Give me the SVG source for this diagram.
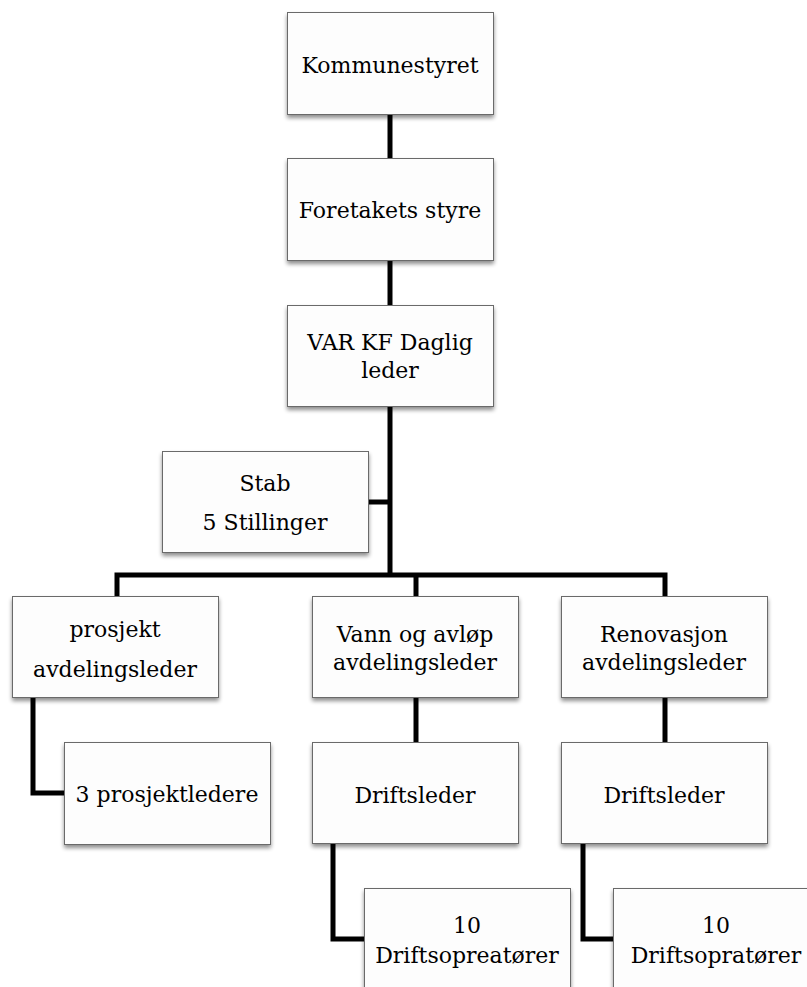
<svg xmlns="http://www.w3.org/2000/svg" width="807" height="987" viewBox="0 0 807 987">
<defs>
<filter id="sh" x="-10%" y="-10%" width="120%" height="130%">
<feGaussianBlur in="SourceAlpha" stdDeviation="2"/>
<feOffset dx="0" dy="3" result="b"/>
<feComponentTransfer><feFuncA type="linear" slope="0.45"/></feComponentTransfer>
<feMerge><feMergeNode/><feMergeNode in="SourceGraphic"/></feMerge>
</filter>
</defs>
<style>
.box{fill:#fdfdfd;stroke:#6b6b6b;stroke-width:1;filter:url(#sh)}
.t{font-family:"DejaVu Serif","Liberation Serif",serif;font-size:22px;fill:#000;text-anchor:middle}
.c{fill:none;stroke:#000;stroke-width:5;stroke-linejoin:miter}
</style>
<rect width="807" height="987" fill="#fff"/>
<g id="connectors">
<path class="c" d="M390,114 V158"/>
<path class="c" d="M390,260 V305"/>
<path class="c" d="M390,406 V575"/>
<path class="c" d="M369,502 H390"/>
<path class="c" d="M117,597 V575 H665 V597"/>
<path class="c" d="M416,575 V597"/>
<path class="c" d="M33,698 V793 H64"/>
<path class="c" d="M416,698 V742"/>
<path class="c" d="M665,698 V742"/>
<path class="c" d="M333,844 V939 H365"/>
<path class="c" d="M583,844 V939 H614"/>
</g>
<g id="kommunestyret"><rect class="box" x="287.5" y="12.5" width="206" height="102"/><text class="t" x="390" y="73">Kommunestyret</text></g>
<g id="foretakets-styre"><rect class="box" x="287.5" y="158.5" width="206" height="102"/><text class="t" x="390" y="218">Foretakets styre</text></g>
<g id="daglig-leder"><rect class="box" x="287.5" y="305.5" width="206" height="101"/><text class="t" x="390" y="350">VAR KF Daglig</text><text class="t" x="390" y="378">leder</text></g>
<g id="stab"><rect class="box" x="162.5" y="451.5" width="206" height="101"/><text class="t" x="265" y="491">Stab</text><text class="t" x="265" y="530">5 Stillinger</text></g>
<g id="prosjekt"><rect class="box" x="12.5" y="596.5" width="206" height="101"/><text class="t" x="115" y="637">prosjekt</text><text class="t" x="115" y="677">avdelingsleder</text></g>
<g id="vann"><rect class="box" x="312.5" y="596.5" width="206" height="101"/><text class="t" x="415" y="642">Vann og avløp</text><text class="t" x="415" y="670">avdelingsleder</text></g>
<g id="renovasjon"><rect class="box" x="561.5" y="596.5" width="206" height="101"/><text class="t" x="664" y="642">Renovasjon</text><text class="t" x="664" y="670">avdelingsleder</text></g>
<g id="prosjektledere"><rect class="box" x="64.5" y="742.5" width="206" height="102"/><text class="t" x="167" y="802">3 prosjektledere</text></g>
<g id="driftsleder-vann"><rect class="box" x="312.5" y="742.5" width="206" height="101"/><text class="t" x="415" y="803">Driftsleder</text></g>
<g id="driftsleder-renovasjon"><rect class="box" x="561.5" y="742.5" width="206" height="101"/><text class="t" x="664" y="803">Driftsleder</text></g>
<g id="driftsopreatorer"><rect class="box" x="364.5" y="888.5" width="206" height="110"/><text class="t" x="467" y="933">10</text><text class="t" x="467" y="963">Driftsopreatører</text></g>
<g id="driftsopratorer"><rect class="box" x="613.5" y="888.5" width="206" height="110"/><text class="t" x="716" y="933">10</text><text class="t" x="716" y="963">Driftsopratører</text></g>
</svg>
